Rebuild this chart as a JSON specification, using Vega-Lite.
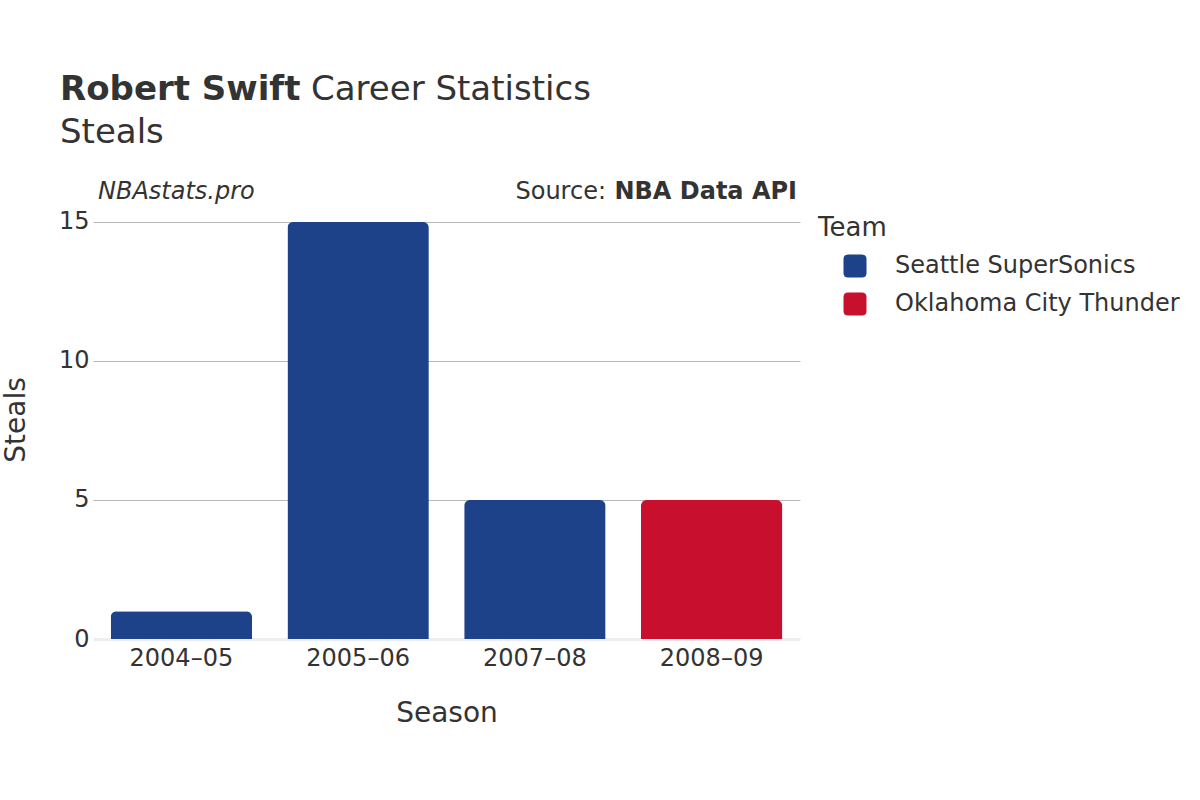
{
  "$schema": "https://vega.github.io/schema/vega-lite/v6.json",
  "width": 707,
  "height": 439,
  "autosize": {"type": "none"},
  "padding": {"left": 93, "top": 200, "right": 400, "bottom": 161},
  "background": "white",
  "config": {
    "font": "DejaVu Sans",
    "view": {"stroke": null},
    "text": {"color": "#333"}
  },
  "title": {
    "text": "Robert Swift",
    "subtitle": "Steals",
    "anchor": "start",
    "frame": "group",
    "dx": -33,
    "offset": -77,
    "fontSize": 34,
    "fontWeight": "bold",
    "color": "#333",
    "subtitleFontSize": 34,
    "subtitleFontWeight": "normal",
    "subtitleColor": "#333",
    "subtitlePadding": 9
  },
  "layer": [
    {
      "data": {
        "values": [
          {"Season": "2004–05", "Team": "Seattle SuperSonics", "Steals": 1},
          {"Season": "2005–06", "Team": "Seattle SuperSonics", "Steals": 15},
          {"Season": "2007–08", "Team": "Seattle SuperSonics", "Steals": 5},
          {"Season": "2008–09", "Team": "Oklahoma City Thunder", "Steals": 5}
        ]
      },
      "mark": {"type": "bar", "cornerRadiusEnd": 6},
      "encoding": {
        "x": {
          "field": "Season",
          "type": "ordinal",
          "sort": null,
          "scale": {"paddingInner": 0.2, "paddingOuter": 0.1},
          "axis": {
            "title": "Season",
            "labelAngle": 0,
            "labelFontSize": 24,
            "labelColor": "#333",
            "labelPadding": 7,
            "ticks": false,
            "domainColor": "#eeeeee",
            "domainWidth": 3,
            "titleFontSize": 28,
            "titleFontWeight": "normal",
            "titleColor": "#333",
            "titlePadding": 29
          }
        },
        "y": {
          "field": "Steals",
          "type": "quantitative",
          "scale": {"domain": [0, 15.789], "nice": false},
          "axis": {
            "title": "Steals",
            "values": [0, 5, 10, 15],
            "labelFontSize": 24,
            "labelColor": "#333",
            "labelPadding": 4,
            "ticks": false,
            "domain": false,
            "grid": true,
            "gridColor": {"condition": {"test": "datum.value === 0", "value": "transparent"}, "value": "#b8b8b8"},
            "titleFontSize": 28,
            "titleFontWeight": "normal",
            "titleColor": "#333",
            "titlePadding": 28
          }
        },
        "color": {
          "field": "Team",
          "type": "nominal",
          "scale": {
            "domain": ["Seattle SuperSonics", "Oklahoma City Thunder"],
            "range": ["#1D428A", "#C8102E"]
          },
          "legend": {
            "title": "Team",
            "orient": "none",
            "legendX": 725,
            "legendY": 15,
            "padding": 0,
            "titleFontSize": 26,
            "titleFontWeight": "normal",
            "titleColor": "#333",
            "titlePadding": 13,
            "labelFontSize": 24,
            "labelColor": "#333",
            "labelOffset": 28,
            "labelLimit": 0,
            "symbolOffset": 25,
            "symbolType": "M -1 -0.6 Q -1 -1 -0.6 -1 L 0.6 -1 Q 1 -1 1 -0.6 L 1 0.6 Q 1 1 0.6 1 L -0.6 1 Q -1 1 -1 0.6 Z",
            "symbolSize": 529,
            "symbolStrokeWidth": 0,
            "symbolOpacity": 1,
            "rowPadding": 14
          }
        }
      }
    },
    {
      "data": {"values": [{"label": "NBAstats.pro"}]},
      "mark": {"type": "text", "align": "left", "baseline": "alphabetic", "fontSize": 24, "fontStyle": "italic", "color": "#333", "dx": 5, "dy": -23},
      "encoding": {
        "text": {"field": "label"},
        "x": {"datum": 0, "type": "quantitative", "scale": {"domain": [0, 1]}, "axis": null},
        "y": {"datum": 15, "type": "quantitative"}
      }
    },
    {
      "data": {"values": [{"label": "Source:"}]},
      "mark": {"type": "text", "align": "right", "baseline": "alphabetic", "fontSize": 24, "color": "#333", "dx": -194, "dy": -23},
      "encoding": {
        "text": {"field": "label"},
        "x": {"datum": 1, "type": "quantitative", "scale": {"domain": [0, 1]}, "axis": null},
        "y": {"datum": 15, "type": "quantitative"}
      }
    },
    {
      "data": {"values": [{"label": "NBA Data API"}]},
      "mark": {"type": "text", "align": "right", "baseline": "alphabetic", "fontSize": 24, "fontWeight": "bold", "color": "#333", "dx": -3, "dy": -23},
      "encoding": {
        "text": {"field": "label"},
        "x": {"datum": 1, "type": "quantitative", "scale": {"domain": [0, 1]}, "axis": null},
        "y": {"datum": 15, "type": "quantitative"}
      }
    },
    {
      "data": {"values": [{"label": "Career Statistics"}]},
      "mark": {"type": "text", "align": "left", "baseline": "alphabetic", "fontSize": 34, "color": "#333", "dx": 218, "dy": -122},
      "encoding": {
        "text": {"field": "label"},
        "x": {"datum": 0, "type": "quantitative", "scale": {"domain": [0, 1]}, "axis": null},
        "y": {"datum": 15, "type": "quantitative"}
      }
    }
  ],
  "resolve": {"scale": {"x": "independent"}}
}
